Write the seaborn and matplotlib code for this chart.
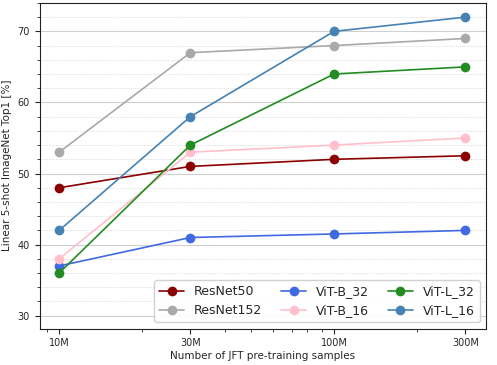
import numpy as np
import pandas as pd
import matplotlib
matplotlib.use("Agg")
import matplotlib.pyplot as plt
import seaborn as sns
from matplotlib.ticker import NullFormatter, MultipleLocator

# data
samples = [10e6, 30e6, 100e6, 300e6]
tick_labels = ["10M", "30M", "100M", "300M"]
models = ["ResNet50", "ResNet152", "ViT-B_32", "ViT-B_16", "ViT-L_32", "ViT-L_16"]
resnet50 = [48, 51, 52, 52.5]
resnet152 = [53, 67, 68, 69]
vit_b32 = [37, 41, 41.5, 42]
vit_b16 = [38, 53, 54, 55]
vit_l32 = [36, 54, 64, 65]
vit_l16 = [42, 58, 70, 72]
colors = ["darkred", "darkgray", "royalblue", "pink", "forestgreen", "steelblue"]

values = [resnet50, resnet152, vit_b32, vit_b16, vit_l32, vit_l16]
rows = []
for m, vals in zip(models, values):
    for s, v in zip(samples, vals):
        rows.append({"samples": s, "acc": v, "model": m})
df = pd.DataFrame(rows)

sns.set_style("ticks")
plt.rcParams['font.family'] = ['DejaVu Sans']

fig, ax = plt.subplots(figsize=(4.97, 3.65), dpi=100)
sns.lineplot(data=df, x="samples", y="acc", hue="model", hue_order=models,
             palette=colors, marker="o", markersize=7, markeredgewidth=0,
             linewidth=1.2, ax=ax)

ax.set_xscale("log")
ax.set_xlim(8.5e6, 357e6)
ax.set_ylim(28.2, 74)
ax.set_xticks(samples)
ax.set_xticklabels(tick_labels)
ax.xaxis.set_minor_formatter(NullFormatter())
ax.yaxis.set_major_locator(MultipleLocator(10))
ax.yaxis.set_minor_locator(MultipleLocator(2))
ax.grid(which="major", axis="y", color="#d0d0d0", linewidth=0.8)
ax.grid(which="minor", axis="y", color="#cfcfcf", linewidth=0.6, linestyle=":")
ax.tick_params(labelsize=7)
ax.tick_params(which="minor", length=2)
for sp in ax.spines.values():
    sp.set_visible(True)
    sp.set_color("#222222")

ax.set_xlabel("Number of JFT pre-training samples", fontsize=7.5, labelpad=2)
ax.set_ylabel("Linear 5-shot ImageNet Top1 [%]", fontsize=7.5)
ax.legend(loc="lower right", ncol=3, fontsize=9, title=None,
          handlelength=2, columnspacing=1.5, framealpha=0.9)

plt.subplots_adjust(left=0.08, right=0.978, top=0.992, bottom=0.1)
fig.savefig("out.png", dpi=100)
